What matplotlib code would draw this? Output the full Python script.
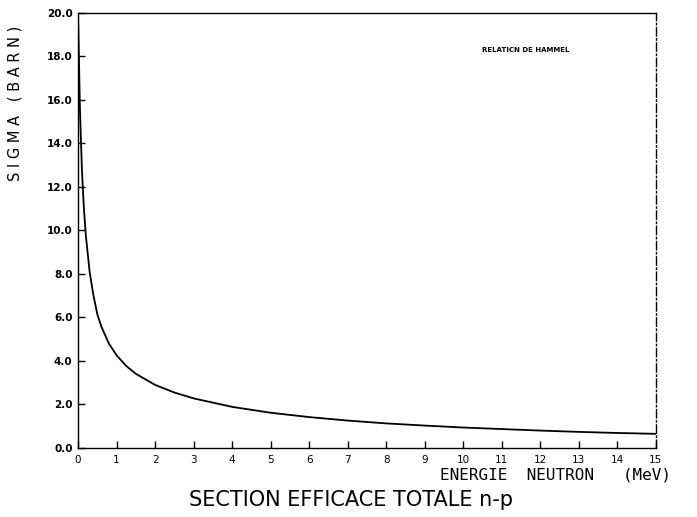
import matplotlib
matplotlib.use("Agg")
from matplotlib import pyplot as plt

# energie neutron (MeV) et section efficace (barn)
energie = [0.0, 0.02, 0.05, 0.1, 0.15, 0.2, 0.3, 0.4, 0.5, 0.6, 0.8, 1.0,
           1.25, 1.5, 2.0, 2.5, 3.0, 4.0, 5.0, 6.0, 7.0, 8.0, 9.0, 10.0,
           11.0, 12.0, 13.0, 14.0, 15.0]
sigma = [20.0, 18.1, 15.5, 12.8, 11.05, 9.8, 8.1, 7.0, 6.15, 5.6, 4.8, 4.26,
         3.77, 3.41, 2.90, 2.55, 2.28, 1.89, 1.62, 1.42, 1.26, 1.13, 1.03, 0.94,
         0.87, 0.80, 0.74, 0.69, 0.65]

xticks = list(range(0, 16))
yticks = [0, 2, 4, 6, 8, 10, 12, 14, 16, 18, 20]
ylabels = ["%.1f" % v for v in yticks]

fig = plt.figure(figsize=(6.97, 5.17), dpi=100)
ax = fig.add_axes([0.112, 0.1335, 0.829, 0.8415])

ax.plot(energie, sigma, "k", linewidth=1.3)

ax.set_xlim(0, 15)
ax.set_ylim(0, 20)
ax.set_xticks(xticks)
ax.set_xticklabels([str(v) for v in xticks])
ax.set_yticks(yticks)
ax.set_yticklabels(ylabels)
ax.tick_params(direction="in", length=5, width=1, labelsize=7.5, colors="k", pad=4)
ax.tick_params(axis="x", pad=5)
for lab in ax.get_yticklabels():
    lab.set_fontweight("bold")
for s in ax.spines.values():
    s.set_linewidth(1)
ax.spines["right"].set_linestyle((0, (6, 2, 1, 2)))

fig.text(0.022, 0.80, "S I G M A   ( B A R N )", rotation=90, ha="center",
         va="center", fontsize=10.5)
fig.text(0.962, 0.081, "ENERGIE  NEUTRON   (MeV)", ha="right", va="center",
         fontsize=11.5, family="DejaVu Sans Mono")
fig.text(0.504, 0.033, "SECTION EFFICACE TOTALE n-p", ha="center", va="center",
         fontsize=15)
ax.text(0.775, 0.915, "RELATICN DE HAMMEL", transform=ax.transAxes, ha="center",
        va="center", fontsize=5, fontweight="bold")

plt.savefig("out.png", dpi=100)
